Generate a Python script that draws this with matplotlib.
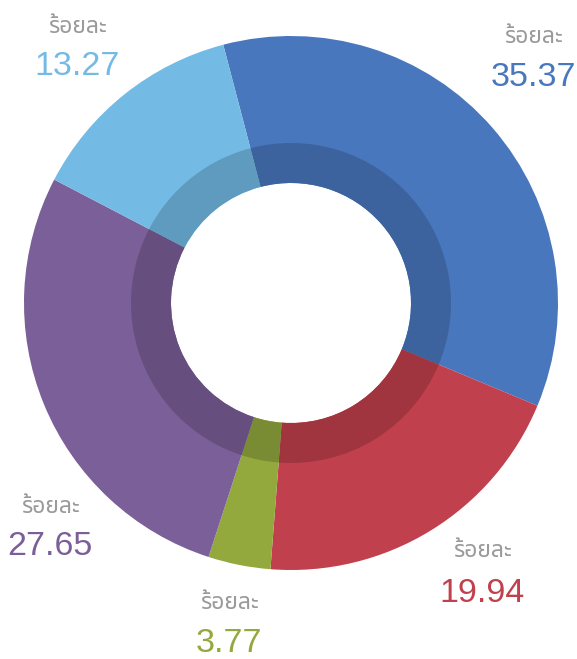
import matplotlib
matplotlib.use("Agg")
import matplotlib.pyplot as plt
import matplotlib.colors as mcolors

# data
labels = ["35.37", "19.94", "3.77", "27.65", "13.27"]
values = [35.37, 19.94, 3.77, 27.65, 13.27]
colors = ["#4877BD", "#C1404D", "#93A93D", "#7B5F99", "#73BBE5"]
prefix = "ร้อยละ"

W, H = 577, 659
fig = plt.figure(figsize=(W / 100, H / 100), dpi=100)
ax = fig.add_axes([0, 0, 1, 1])

cx, cy = 291, H - 303
R_out, R_mid, R_in = 267, 160, 120
start = 104.7

ax.pie(values, colors=colors, radius=R_out, center=(cx, cy), startangle=start,
       counterclock=False, wedgeprops=dict(width=R_out - R_in, linewidth=0),
       frame=True)

dark = []
for c in colors:
    r, g, b = mcolors.to_rgb(c)
    dark.append((r * 0.83, g * 0.83, b * 0.83))
ax.pie(values, colors=dark, radius=R_mid, center=(cx, cy), startangle=start,
       counterclock=False, wedgeprops=dict(width=R_mid - R_in, linewidth=0),
       frame=True)
ax.set_xlim(0, W)
ax.set_ylim(0, H)
ax.set_aspect("equal")
ax.axis("off")

# label anchor: (center x, baseline of prefix, baseline of number), pixels from top-left
pos = [(533, 43, 86), (482, 557, 602), (229, 609, 652), (50, 513, 555), (77, 33, 75)]
thai = ["Noto Sans Thai", "Noto Sans Thai UI", "DejaVu Sans"]
num_font = ["Liberation Sans", "DejaVu Sans"]
for (x, y1, y2), lab, col in zip(pos, labels, colors):
    ax.text(x, H - y1, prefix, ha="center", va="baseline", fontsize=16.5,
            color="#9A9A9A", family=thai)
    ax.text(x, H - y2, lab, ha="center", va="baseline", fontsize=24.5,
            color=col, family=num_font)

fig.savefig("out.png", dpi=100)
